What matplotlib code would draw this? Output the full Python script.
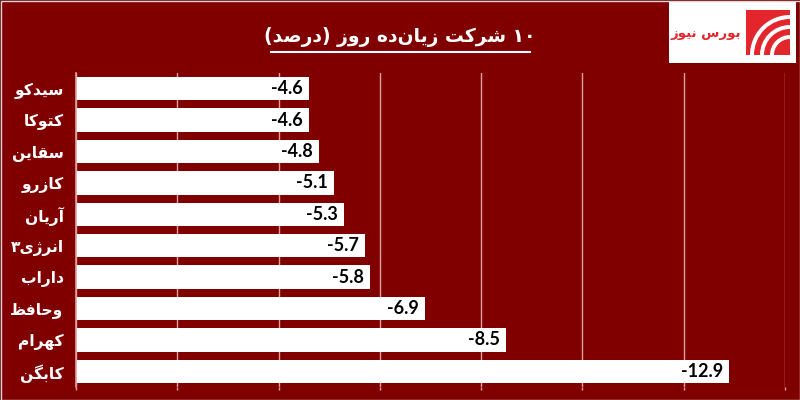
import matplotlib
matplotlib.use("Agg")
import matplotlib.pyplot as plt
from matplotlib.patches import Rectangle, Wedge
from matplotlib.lines import Line2D

# ---------------- data ----------------
categories = ["سیدکو", "کتوکا", "سقاین", "کازرو", "آریان",
              "انرژی۳", "داراب", "وحافظ", "کهرام", "کابگن"]
values = [-4.6, -4.6, -4.8, -5.1, -5.3, -5.7, -5.8, -6.9, -8.5, -12.9]
title_text = "۱۰ شرکت زیان‌ده روز (درصد)"
logo_text = "بورس نیوز"
x_ticks = [0, 2, 4, 6, 8, 10, 12, 14]

# ------------- minimal Arabic/Persian shaping -------------
# (isolated, final, initial, medial) ; None => right-joining only
FORMS = {
    'ا': ('\uFE8D', '\uFE8E', None, None),
    'آ': ('\uFE81', '\uFE82', None, None),
    'ب': ('\uFE8F', '\uFE90', '\uFE91', '\uFE92'),
    'پ': ('\uFB56', '\uFB57', '\uFB58', '\uFB59'),
    'ت': ('\uFE95', '\uFE96', '\uFE97', '\uFE98'),
    'ح': ('\uFEA1', '\uFEA2', '\uFEA3', '\uFEA4'),
    'د': ('\uFEA9', '\uFEAA', None, None),
    'ر': ('\uFEAD', '\uFEAE', None, None),
    'ز': ('\uFEAF', '\uFEB0', None, None),
    'ژ': ('\uFB8A', '\uFB8B', None, None),
    'س': ('\uFEB1', '\uFEB2', '\uFEB3', '\uFEB4'),
    'ش': ('\uFEB5', '\uFEB6', '\uFEB7', '\uFEB8'),
    'ص': ('\uFEB9', '\uFEBA', '\uFEBB', '\uFEBC'),
    'ظ': ('\uFEC5', '\uFEC6', '\uFEC7', '\uFEC8'),
    'ف': ('\uFED1', '\uFED2', '\uFED3', '\uFED4'),
    'ق': ('\uFED5', '\uFED6', '\uFED7', '\uFED8'),
    'ک': ('\uFB8E', '\uFB8F', '\uFB90', '\uFB91'),
    'گ': ('\uFB92', '\uFB93', '\uFB94', '\uFB95'),
    'م': ('\uFEE1', '\uFEE2', '\uFEE3', '\uFEE4'),
    'ن': ('\uFEE5', '\uFEE6', '\uFEE7', '\uFEE8'),
    'ه': ('\uFEE9', '\uFEEA', '\uFEEB', '\uFEEC'),
    'و': ('\uFEED', '\uFEEE', None, None),
    'ی': ('\uFBFC', '\uFBFD', '\uFBFE', '\uFBFF'),
}
DIGITS = set("0123456789۰۱۲۳۴۵۶۷۸۹.")
MIRROR = {'(': ')', ')': '('}


def shape(text):
    chars = list(text)
    n = len(chars)
    shaped = []
    for i, c in enumerate(chars):
        if c == '\u200c':
            continue
        if c not in FORMS:
            shaped.append(MIRROR.get(c, c))
            continue
        prev = chars[i - 1] if i > 0 else None
        nxt = chars[i + 1] if i < n - 1 else None
        jp = prev in FORMS and FORMS[prev][2] is not None
        jn = nxt in FORMS and FORMS[c][2] is not None
        iso, fin, ini, med = FORMS[c]
        if jp and jn:
            shaped.append(med)
        elif jp:
            shaped.append(fin)
        elif jn:
            shaped.append(ini)
        else:
            shaped.append(iso)
    vis = shaped[::-1]
    # restore LTR order of digit runs
    out, run = [], []
    for c in vis:
        if c in DIGITS:
            run.append(c)
        else:
            if run:
                out.extend(run[::-1]); run = []
            out.append(c)
    if run:
        out.extend(run[::-1])
    return "".join(out)


# ---------------- figure ----------------
BG = "#800000"
GRID = "#E0A0A0"
fig = plt.figure(figsize=(8, 4), dpi=100, facecolor=BG)
ax = fig.add_axes([76 / 800, 13 / 400, (785 - 76) / 800, (400 - 13 - 73) / 400])
ax.set_facecolor(BG)

mags = [abs(v) for v in values]
ypos = list(range(len(categories)))
ax.barh(ypos, mags, height=0.74, color="white", zorder=3)
ax.set_ylim(len(categories) - 0.5, -0.5)
ax.set_xlim(0, 14)
ax.set_xticks(x_ticks)
ax.set_xticklabels([])
ax.tick_params(axis="x", length=2, color=GRID, direction="out", width=1)
ax.grid(axis="x", color=GRID, linewidth=1, zorder=0)
ax.set_axisbelow(True)
for s in ["top", "right", "bottom"]:
    ax.spines[s].set_visible(False)
ax.spines["left"].set_color(GRID)
ax.spines["left"].set_linewidth(1.2)
ax.spines["left"].set_zorder(4)

ax.set_yticks(ypos)
ax.set_yticklabels([shape(c) for c in categories], fontsize=11.2,
                   fontweight="bold", color="white", family="DejaVu Sans")
ax.tick_params(axis="y", length=0, pad=9)

for y, m, v in zip(ypos, mags, values):
    ax.annotate(f"{v:.1f}", xy=(m, y), xytext=(-4.5, 0), textcoords="offset points",
                ha="right", va="center", fontsize=13, fontweight="bold",
                color="black", family="Lato", zorder=5)

# title with underline
fig.text(400 / 800, 1 - 37 / 400, shape(title_text), ha="center", va="center",
         fontsize=13.5, fontweight="bold", color="white", family="DejaVu Sans")
fig.add_artist(Line2D([271 / 800, 530 / 800], [1 - 52 / 400, 1 - 52 / 400],
                      color="white", linewidth=1.5, transform=fig.transFigure))

# logo
fig.add_artist(Rectangle((669 / 800, 1 - 63 / 400), (796 - 669) / 800, 61 / 400,
                         facecolor="white", edgecolor="none", transform=fig.transFigure,
                         zorder=2))
lax = fig.add_axes([746 / 800, 1 - 55 / 400, 44 / 800, 45 / 400])
lax.set_zorder(5)
lax.set_xlim(0, 44); lax.set_ylim(0, 45); lax.axis("off")
lax.add_patch(Rectangle((0, 0), 44, 45, facecolor="#E3262B", edgecolor="none"))
for r in [40, 30, 20]:
    lax.add_patch(Wedge((44, 0), r, 90, 180, width=4, facecolor="white", edgecolor="none"))
fig.text(706 / 800, 1 - 33 / 400, shape(logo_text), ha="center", va="center",
         fontsize=9.5, fontweight="bold", color="#E3262B", family="DejaVu Sans",
         zorder=6)

# outer border
fig.add_artist(Rectangle((0.5 / 800, 0.5 / 400), 799 / 800, 399 / 400, facecolor="none",
                         edgecolor="#D8D8D8", linewidth=1, transform=fig.transFigure,
                         zorder=7))

fig.savefig("out.png", dpi=100, facecolor=BG)
